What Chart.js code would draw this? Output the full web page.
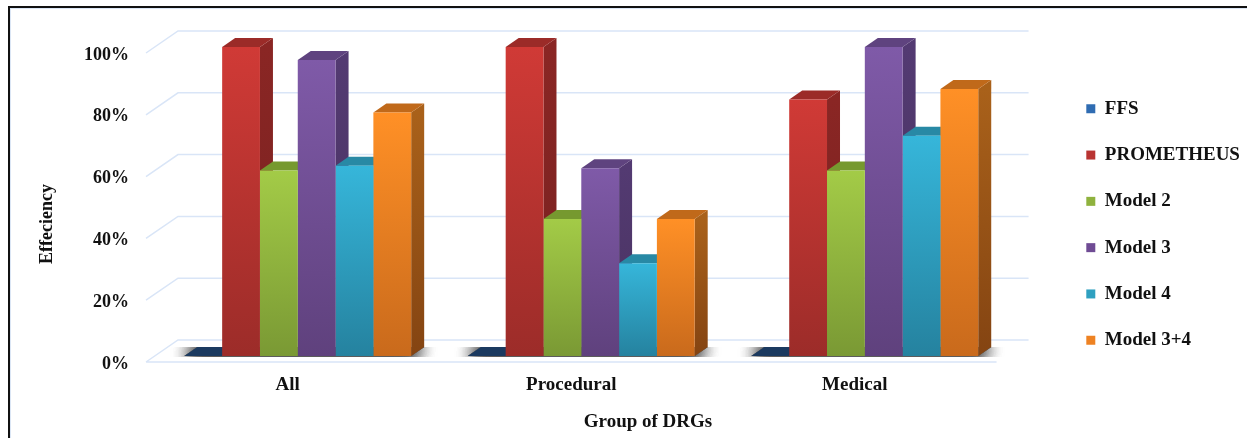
<!DOCTYPE html>
<html>
<head>
<meta charset="utf-8">
<title>Efficiency by group of DRGs</title>
<script src="https://cdn.jsdelivr.net/npm/chart.js@4"></script>
<style>
  html, body { margin: 0; background: #fff; overflow: hidden; }
  #frame { position: absolute; left: 8px; top: 6px; width: 1239px; height: 432px;
           border-top: 2px solid #111; border-left: 2px solid #111; box-sizing: border-box;
           box-shadow: inset 1px 1px 0 #dbe6f5; }
  #chart { position: absolute; left: 0; top: 0; }
</style>
</head>
<body>
<div id="frame"></div>
<canvas id="chart" width="1247" height="438"></canvas>
<script>
var grupos = ['All', 'Procedural', 'Medical'];
var ticksY = [0, 20, 40, 60, 80, 100];

var ffs        = [0, 0, 0];
var prometheus = [100, 100, 83];
var model2     = [60, 44.3, 60];
var model3     = [95.8, 60.8, 100];
var model4     = [61.6, 30, 71.3];
var model34    = [78.8, 44.3, 86.4];

var nombres  = ['FFS', 'PROMETHEUS', 'Model 2', 'Model 3', 'Model 4', 'Model 3+4'];
var series   = [ffs, prometheus, model2, model3, model4, model34];

// colours per series: legend, front top/bottom, side top/bottom, cap
var cLeyenda = ['#2f6cb2', '#b93432', '#8fb23e', '#6f4b94', '#2fa0c0', '#ee8222'];
var cArriba  = ['#2f6cb2', '#d03a36', '#a3cb47', '#7f5aa8', '#36b6da', '#ff9026'];
var cAbajo   = ['#1f4a80', '#9c2c29', '#7a9934', '#5f417d', '#25829f', '#c96a1c'];
var cLadoA   = ['#1b3a60', '#8a2624', '#76992f', '#533a72', '#2889a5', '#a9611a'];
var cLadoB   = ['#1b3a60', '#772120', '#5e7a26', '#49325f', '#1f6a82', '#844412'];
var cTapa    = ['#1b3a60', '#9b2b28', '#76992f', '#5f437f', '#2889a5', '#c0691a'];

var colorGrid = '#d9e5f7';
var fuente    = '"Liberation Serif", serif';

// ── 3D projection offsets ───────────────────────────────────────────────────
var barDX = 13,  barDY = 9;    // depth of a column
var wallDX = 32, wallDY = 22;  // depth of the floor
var planoDX = 10, planoDY = 6; // columns stand this far back from the floor edge

function poly(ctx, pts, fill) {
    ctx.beginPath();
    ctx.moveTo(pts[0][0], pts[0][1]);
    for (var i = 1; i < pts.length; i++) ctx.lineTo(pts[i][0], pts[i][1]);
    ctx.closePath();
    ctx.fillStyle = fill;
    ctx.fill();
}

function frontColor(c) {
    var i = c.datasetIndex;
    var y = c.chart.scales.y;
    if (!y || !c.chart.chartArea) return cArriba[i];
    var g = c.chart.ctx.createLinearGradient(0, y.getPixelForValue(c.raw), 0, y.getPixelForValue(0));
    g.addColorStop(0, cArriba[i]);
    g.addColorStop(1, cAbajo[i]);
    return g;
}

function etiquetasLeyenda(chart) {
    var items = Chart.defaults.plugins.legend.labels.generateLabels(chart);
    items.forEach(function (it, i) { it.fillStyle = cLeyenda[i]; });
    return items;
}

// ── Floor, back wall, shadow and column depth ───────────────────────────────
var escena3d = {
    id: 'escena3d',
    afterLayout: function (chart) {
        // legend sits clear of the plot, to the right
        var l = chart.legend;
        var dx = 1059 - l.left, dy = -18;
        l.left += dx; l.right += dx;
        l.top += dy; l.bottom += dy;
    },
    beforeDatasetsDraw: function (chart) {
        var ctx = chart.ctx, y = chart.scales.y, a = chart.chartArea;
        var x0 = a.left - planoDX, x1 = a.right - planoDX;

        ctx.save();
        ctx.strokeStyle = colorGrid;
        ctx.lineWidth = 1.5;
        ticksY.forEach(function (v) {
            var py = y.getPixelForValue(v) + planoDY;
            ctx.beginPath();
            ctx.moveTo(x0, py);
            ctx.lineTo(x0 + wallDX, py - wallDY);
            ctx.lineTo(x1 + wallDX, py - wallDY);
            if (v === 0) {
                ctx.moveTo(x0, py);
                ctx.lineTo(x1, py);
            }
            ctx.stroke();
        });
        ctx.restore();

        var first = chart.getDatasetMeta(0).data;
        var last  = chart.getDatasetMeta(series.length - 1).data;
        var base  = y.getPixelForValue(0);

        // soft shadow under each group of columns
        grupos.forEach(function (g, i) {
            var l = first[i].x - first[i].width / 2;
            var r = last[i].x + last[i].width / 2;
            ctx.save();
            ctx.beginPath();
            ctx.rect(l - 40, base - barDY, r - l + 90, barDY + 1);
            ctx.clip();
            ctx.shadowColor = 'rgba(40,40,40,1)';
            ctx.shadowBlur = 16;
            for (var n = 0; n < 3; n++) {
                poly(ctx, [[l, base], [l + barDX, base - barDY], [r + barDX, base - barDY], [r, base]], '#666');
            }
            ctx.restore();
        });

        series.forEach(function (s, d) {
            chart.getDatasetMeta(d).data.forEach(function (el) {
                var l = el.x - el.width / 2, r = el.x + el.width / 2;
                var g = ctx.createLinearGradient(0, el.y, 0, el.base);
                g.addColorStop(0, cLadoA[d]);
                g.addColorStop(1, cLadoB[d]);
                poly(ctx, [[r, el.y], [r + barDX, el.y - barDY], [r + barDX, el.base - barDY], [r, el.base]], g);
                poly(ctx, [[l, el.y], [l + barDX, el.y - barDY], [r + barDX, el.y - barDY], [r, el.y]], cTapa[d]);
            });
        });
    },
    afterDraw: function (chart) {
        var ctx = chart.ctx;
        ctx.save();
        ctx.font = 'bold 19px ' + fuente;
        ctx.fillStyle = '#111';
        ctx.textAlign = 'center';
        ctx.textBaseline = 'middle';
        ctx.fillText('Group of DRGs', 648, 422);
        ctx.translate(47, 224);
        ctx.rotate(-Math.PI / 2);
        ctx.font = 'bold 18px ' + fuente;
        ctx.fillText('Effeciency', 0, 0);
        ctx.restore();
    }
};

new Chart(document.getElementById('chart'), {
    type: 'bar',
    data: {
        labels: grupos,
        datasets: series.map(function (s, i) {
            return { label: nombres[i], data: s, backgroundColor: frontColor, borderWidth: 0 };
        })
    },
    plugins: [escena3d],
    options: {
        responsive: false,
        animation: false,
        layout: { padding: { top: 47, left: 0, right: 49.5, bottom: 0 } },
        datasets: { bar: { categoryPercentage: 0.8, barPercentage: 1 } },
        plugins: {
            legend: {
                position: 'right',
                align: 'center',
                labels: {
                    boxWidth: 9, boxHeight: 9, padding: 27.3, color: '#111',
                    font: { family: fuente, size: 19, weight: 'bold' },
                    generateLabels: etiquetasLeyenda
                }
            },
            tooltip: { enabled: false }
        },
        scales: {
            x: {
                grid: { display: false, drawTicks: false },
                border: { display: false },
                ticks: {
                    padding: 18, labelOffset: -planoDX, maxRotation: 0, color: '#111',
                    font: { family: fuente, size: 19, weight: 'bold' }
                },
                afterFit: function (s) { s.height = 82; }
            },
            y: {
                min: 0, max: 100,
                grid: { display: false, drawTicks: false },
                border: { display: false },
                ticks: {
                    stepSize: 20, padding: 27, labelOffset: planoDY + 2, color: '#111',
                    font: { family: fuente, size: 18, weight: 'bold' },
                    callback: function (v) { return v + '%'; }
                },
                afterFit: function (s) { s.width = 156; }
            }
        }
    }
});
</script>
</body>
</html>
